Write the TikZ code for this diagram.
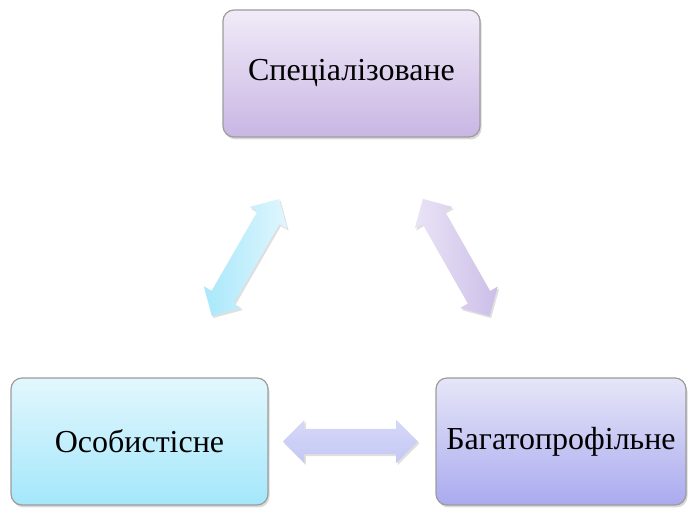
\documentclass[tikz,border=0pt]{standalone}
\usepackage{fontspec}
\setmainfont{Liberation Serif}
\usetikzlibrary{calc,shapes.arrows,shadows}
\definecolor{lineGray}{HTML}{9C9C9C}
\tikzset{
  box/.style={draw=lineGray, line width=1.2pt, rounded corners=11pt,
    minimum height=127pt, inner sep=0pt, font=\fontsize{32}{38}\selectfont,
    drop shadow={shadow xshift=1.5pt, shadow yshift=-2.5pt, opacity=.3}},
  twoway/.style={double arrow, draw=none, inner xsep=0pt, inner ysep=12.5pt,
    minimum height=135pt,
    double arrow head extend=9pt, double arrow head indent=0pt,
    drop shadow={shadow xshift=1.5pt, shadow yshift=-2pt, opacity=.25}}
}
\begin{document}
\begin{tikzpicture}[x=1pt, y=1pt]
  \useasboundingbox (0, 0) rectangle (688, 508);
  \node [box, minimum width=257pt, top color={rgb,255:red,241;green,235;blue,248},
         bottom color={rgb,255:red,200;green,182;blue,228}] (spec) at (351.5, 434.5) {Спеціалізоване};
  \node [box, minimum width=257pt, top color={rgb,255:red,227;green,247;blue,253},
         bottom color={rgb,255:red,163;green,231;blue,251}] (osob) at (139.5, 66.5) {Особистісне};
  \node [box, minimum width=250pt, top color={rgb,255:red,230;green,230;blue,248},
         bottom color={rgb,255:red,170;green,170;blue,240}] (bagat) at (561, 66.5) {Багатопрофільне};
  % two-way arrows between the boxes
  \path let \p1 = ($(spec)-(osob)$), \n1 = {atan2(\y1, \x1)} in
    node [twoway, rotate=\n1, left color={rgb,255:red,168;green,232;blue,251},
          right color={rgb,255:red,224;green,246;blue,253}] (ao) at ($(osob)!0.5!(spec)$) {};
  \path let \p1 = ($(bagat)-(spec)$), \n1 = {atan2(\y1, \x1)} in
    node [twoway, rotate=\n1, left color={rgb,255:red,234;green,228;blue,246},
          right color={rgb,255:red,204;green,190;blue,232}] (ab) at ($(spec)!0.5!(bagat)$) {};
  \node [twoway, top color={rgb,255:red,214;green,216;blue,247},
         bottom color={rgb,255:red,196;green,200;blue,244}] (ah) at ($(osob)!0.5!(bagat)$) {};
\end{tikzpicture}
\end{document}
